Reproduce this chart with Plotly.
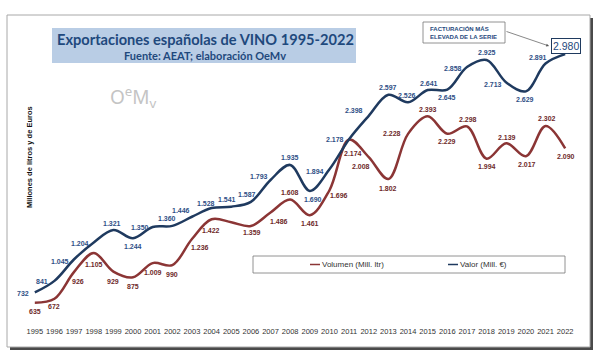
import plotly.graph_objects as go

years = list(range(1995, 2023))
valor = [732, 841, 1045, 1204, 1321, 1244, 1350, 1360, 1446, 1528, 1541, 1587, 1793, 1935,
         1690, 1894, 2178, 2398, 2597, 2526, 2641, 2645, 2858, 2925, 2713, 2629, 2891, 2980]
volumen = [635, 672, 926, 1105, 929, 875, 1009, 990, 1236, 1422, 1395, 1359, 1486, 1608,
           1461, 1696, 2174, 2008, 1802, 2228, 2393, 2229, 2298, 1994, 2139, 2017, 2302, 2090]
volumen_labelled = [True] * 28
volumen_labelled[10] = False  # 2005 has no label in the original

tick_labels = [str(y) for y in years]

# label offsets (screen px: dx right, dy down) relative to the point
valor_off = [(-12, 1), (-12, 1), (-14, 2), (-14, 1), (-1, -7), (0, 8), (-13, 1), (-5, -7),
             (-11, -6), (-6, -5), (-4, -7), (-4, -7), (-12, -3), (0, -7), (3, 9), (-14, 2),
             (-14, 0), (-15, -5), (0, -7), (-1, -7), (1, -7), (0, 8), (-14, 1), (0, -7),
             (-13, 2), (-1, 8), (-8, -6), None]
vol_off = [(0, 9), (0, 8), (4, 10), (0, 12), (0, 10), (0, 9), (0, 9), (0, 9), (8, 8), (-1, 11),
           None, (1, 7), (8, 9), (0, -7), (0, 8), (10, 5), (4, 14), (-8, 9), (0, 9), (-16, 0),
           (0, -7), (0, 8), (1, -7), (0, 8), (1, -6), (1, 8), (1, -8), (1, 8)]

BLUE = "#1f3a5f"
RED = "#8b3535"
BLUE_TXT = "#2f4f86"
RED_TXT = "#6e2a2a"

W, H = 600, 364
ML, MR, MT, MB = 25, 25, 20, 39
PW, PH = W - ML - MR, H - MT - MB


def px(x):
    return (x - ML) / PW


def py(y):
    return 1 - (y - MT) / PH


def fmt(v):
    return f"{v:,}".replace(",", ".")


fig = go.Figure()
fig.add_trace(go.Scatter(x=years, y=volumen, mode="lines", name="Volumen (Mill. ltr)",
                         line=dict(color=RED, width=2.5, shape="spline", smoothing=1.0),
                         showlegend=False, hoverinfo="skip"))
fig.add_trace(go.Scatter(x=years, y=valor, mode="lines", name="Valor (Mill. €)",
                         line=dict(color=BLUE, width=2.5, shape="spline", smoothing=1.0),
                         showlegend=False, hoverinfo="skip"))

ann = []
lab_font = dict(family="Liberation Sans, Arial", size=7)
for yr, v, off in zip(years, valor, valor_off):
    if off is None:
        continue
    ann.append(dict(x=yr, y=v, xref="x", yref="y", text=f"<b>{fmt(v)}</b>", showarrow=False,
                    xanchor="center", yanchor="middle",
                    xshift=off[0], yshift=-off[1],
                    font=dict(lab_font, color=BLUE_TXT)))
for yr, v, off, show in zip(years, volumen, vol_off, volumen_labelled):
    if off is None or not show:
        continue
    ann.append(dict(x=yr, y=v, xref="x", yref="y", text=f"<b>{fmt(v)}</b>", showarrow=False,
                    xanchor="center", yanchor="middle",
                    xshift=off[0], yshift=-off[1],
                    font=dict(lab_font, color=RED_TXT)))

# highlighted last value
ann.append(dict(x=years[-1], y=valor[-1], xref="x", yref="y", text=fmt(valor[-1]),
                showarrow=False, xshift=1, yshift=8, xanchor="center", yanchor="middle",
                font=dict(family="Liberation Sans, Arial", size=10.5, color="#1f497d"),
                bordercolor="#1f3a5f", borderwidth=1, borderpad=1, bgcolor="white"))


def pann(x, y, text, **kw):
    d = dict(x=px(x), y=py(y), xref="paper", yref="paper", text=text, showarrow=False,
             xanchor="center", yanchor="middle")
    d.update(kw)
    ann.append(d)


pann(205, 40, "<b>Exportaciones españolas de VINO 1995-2022</b>",
     font=dict(family="Lato", size=14.6, color="#1f497d"))
pann(205, 56, "<b>Fuente: AEAT; elaboración OeMv</b>",
     font=dict(family="Lato", size=11, color="#1f497d"))
pann(133, 97, "O<sup>e</sup>M<sub>v</sub>",
     font=dict(family="Noto Sans", size=19, color="#c4c4c4"))
pann(29, 157, "<b>Millones de litros y de Euros</b>", textangle=-90,
     font=dict(family="Liberation Sans, Arial", size=7.5, color="#111"))
pann(428, 32.5, "<b>FACTURACIÓN MÁS<br>ELEVADA DE LA SERIE</b>", xanchor="left", align="left",
     font=dict(family="Liberation Sans, Arial", size=6, color="#1f497d"))
ann.append(dict(x=px(549), y=py(46), xref="paper", yref="paper", text="",
                showarrow=True, ax=-44, ay=-15, arrowhead=2, arrowsize=0.8,
                arrowwidth=0.7, arrowcolor="#555"))
pann(320, 264.5, "Volumen (Mill. ltr)", xanchor="left",
     font=dict(family="Liberation Sans, Arial", size=8, color="#333"))
pann(458, 264.5, "Valor (Mill. €)", xanchor="left",
     font=dict(family="Liberation Sans, Arial", size=8, color="#333"))

shapes = [
    dict(type="rect", xref="paper", yref="paper", x0=px(10), x1=px(593), y0=py(18), y1=py(350),
         fillcolor="#4a4a4a", line=dict(width=0), layer="below"),
    dict(type="rect", xref="paper", yref="paper", x0=px(7), x1=px(590), y0=py(15), y1=py(347),
         fillcolor="white", line=dict(color="#a8a8a8", width=1), layer="below"),
    dict(type="rect", xref="paper", yref="paper", x0=px(52), x1=px(356), y0=py(28), y1=py(63),
         fillcolor="#b9cde5", line=dict(width=0), layer="below"),
    dict(type="rect", xref="paper", yref="paper", x0=px(423), x1=px(505), y0=py(22), y1=py(43),
         fillcolor="white", line=dict(color="#777", width=0.8), layer="below"),
    dict(type="rect", xref="paper", yref="paper", x0=px(253), x1=px(565), y0=py(256), y1=py(273),
         fillcolor="white", line=dict(color="#777", width=0.8), layer="below"),
    dict(type="line", xref="paper", yref="paper", x0=px(310), x1=px(320), y0=py(264.5), y1=py(264.5),
         line=dict(color=RED, width=1.5)),
    dict(type="line", xref="paper", yref="paper", x0=px(448), x1=px(458), y0=py(264.5), y1=py(264.5),
         line=dict(color=BLUE, width=1.5)),
]

fig.update_layout(
    width=W, height=H,
    margin=dict(l=ML, r=MR, t=MT, b=MB),
    paper_bgcolor="white", plot_bgcolor="rgba(0,0,0,0)",
    annotations=ann, shapes=shapes, hovermode=False,
    xaxis=dict(range=[1994.5, 2022.5], tickmode="array", tickvals=years, ticktext=tick_labels,
               showgrid=False, zeroline=False, showline=False, ticks="", fixedrange=True,
               tickfont=dict(family="Liberation Sans, Arial", size=7.5, color="#333")),
    yaxis=dict(range=[425, 3302], showgrid=False, zeroline=False, showline=False,
               showticklabels=False, ticks="", fixedrange=True),
)

fig.write_html("out.html", config={"displayModeBar": False},
               post_script="document.body.style.margin='0';document.body.style.overflow='hidden';")
